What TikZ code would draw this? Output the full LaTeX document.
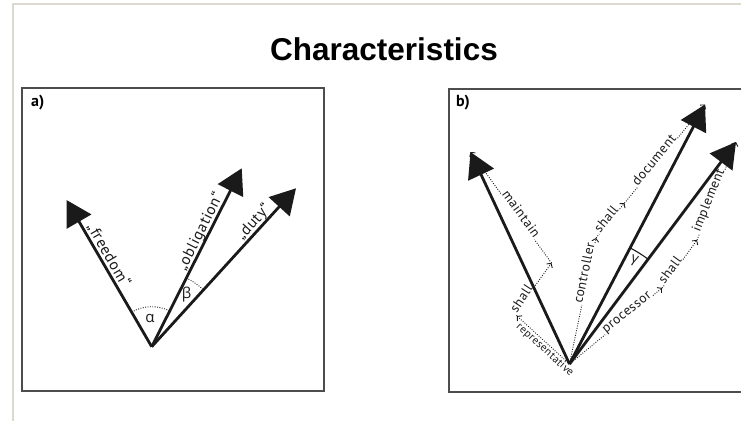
\documentclass[tikz,border=0pt]{standalone}
\usepackage{fontspec}
\usetikzlibrary{arrows.meta,calc}
\setmainfont{PT Sans}
\newfontfamily\lblfont[LetterSpace=4]{PT Sans}
\newfontfamily\titlefont{Liberation Sans}
\newfontfamily\grkfont{Open Sans}
\definecolor{framegray}{HTML}{4D4D4D}
\definecolor{bordergray}{HTML}{DCDAD0}
\definecolor{ink}{HTML}{1A1A1A}
\tikzset{
  bigarrow/.style={line width=2.8pt, draw=ink, -{Triangle[length=25pt,width=28pt]}},
  dotline/.style={draw=ink, line width=0.9pt, dash pattern=on 0.9pt off 1.5pt},
  barb/.style={-{Straight Barb[length=3pt,width=7pt]}},
  alabel/.style={font=\lblfont\fontsize{15.5pt}{18pt}\selectfont, text=ink, inner sep=1pt, anchor=base},
  blabel/.style={font=\lblfont\fontsize{13.5pt}{16pt}\selectfont, text=ink, inner sep=1pt, anchor=base},
  greek/.style={font=\grkfont\fontsize{15pt}{17pt}\selectfont, text=ink, inner sep=0pt},
  panelframe/.style={draw=framegray, line width=1.4pt},
  panellabel/.style={font=\bfseries\fontsize{16pt}{18pt}\selectfont, anchor=north west, inner sep=0pt}
}
\begin{document}
\begin{tikzpicture}[x=1pt,y=-1pt]
\useasboundingbox (0,0) rectangle (741,420);
\clip (0,0) rectangle (741,420);
% outer border
\draw[bordergray, line width=2.5pt] (13,800) -- (13,4) -- (900,4);
% title
\node[font=\titlefont\bfseries\fontsize{31.5pt}{36pt}\selectfont, anchor=base, inner sep=0pt] (title) at (384,60) {Characteristics};
% frames
\draw[panelframe] (22,88) rectangle (324,391);
\draw[panelframe] (449,89) rectangle (800,392);
\node[panellabel] (la) at (31,95) {a)};
\node[panellabel] (lb) at (456,95) {b)};

% ---------- panel a ----------
\coordinate (Oa) at (151.7,346.7);
\coordinate (Fa) at (66.5,200);
\coordinate (Ba) at (241.7,168.3);
\coordinate (Da) at (296,188.3);
\node[alabel, rotate=-59.9] (tfree) at (104.5,257.5) {„freedom“};
\node[alabel, rotate=63.2] (tobl) at (204.4,233.3) {„obligation“};
\node[alabel, rotate=47.7] (tduty) at (257.1,225) {„duty“};
\draw[dotline] ($(Oa)+(-120.1:40)$) arc[start angle=-120.1, end angle=-63.2, radius=40];
\draw[dotline] ($(Oa)+(-63.2:77)$) arc[start angle=-63.2, end angle=-47.7, radius=77];
\node[greek] (alpha) at (150,318) {α};
\node[greek] (beta) at (186.7,295) {β};
\draw[bigarrow] (Oa) -- (Fa);
\draw[bigarrow] (Oa) -- (Ba);
\draw[bigarrow] (Oa) -- (Da);

% ---------- panel b ----------
\coordinate (Ob) at (569.5,364);
\coordinate (Lb) at (470.5,152);
\coordinate (Mb) at (705,104.5);
\coordinate (Rb) at (736,142);
\coordinate (A1) at (517,316);
\coordinate (A2) at (551.5,263);
\coordinate (A3) at (596,238);
\coordinate (A4) at (624.5,203.1);
\coordinate (A5) at (662,288);
\coordinate (A6) at (697,240);

\node[font=\lblfont\fontsize{11pt}{13pt}\selectfont, text=ink, inner sep=0pt, anchor=mid, rotate=-42.4] (trep) at (544.7,350.2) {representative};
\node[blabel, rotate=56.9] (tsh1) at (525,301) {shall};
\node[blabel, rotate=-53.9] (tmain) at (517.7,216.6) {maintain};
\node[blabel, rotate=78.1] (tctrl) at (588.4,274) {controller};
\node[blabel, rotate=50.8] (tsh2) at (609.5,221.5) {shall};
\node[blabel, rotate=50.8] (tdoc) at (657.4,162.9) {document};
\node[blabel, rotate=39.4] (tproc) at (629,315.1) {processor};
\node[blabel, rotate=53.9] (tsh3) at (673.5,272.5) {shall};
\node[blabel, rotate=68.3] (timpl) at (712.2,201.8) {implement};

\draw[dotline, barb] (Ob) -- (A1);
\draw[dotline] (A1) -- (tsh1.base west);
\draw[dotline, barb] (tsh1.base east) -- (A2);
\draw[dotline] (A2) -- (tmain.base east);
\draw[dotline, barb] (tmain.base west) -- (Lb);
\draw[dotline] (Ob) -- (tctrl.base west);
\draw[dotline, barb] (tctrl.base east) -- (A3);
\draw[dotline] (A3) -- (tsh2.base west);
\draw[dotline, barb] (tsh2.base east) -- (A4);
\draw[dotline] (A4) -- (tdoc.base west);
\draw[dotline, barb] (tdoc.base east) -- (Mb);
\draw[dotline] (Ob) -- (tproc.base west);
\draw[dotline, barb] (tproc.base east) -- (A5);
\draw[dotline] (A5) -- (tsh3.base west);
\draw[dotline, barb] (tsh3.base east) -- (A6);
\draw[dotline] (A6) -- (timpl.base west);
\draw[dotline, barb] (timpl.base east) -- (Rb);

\draw[ink, line width=1.1pt] ($(Ob)+(-62.4:131)$) arc[start angle=-62.4, end angle=-53.1, radius=131];
\node[greek, font=\grkfont\fontsize{14pt}{16pt}\selectfont, rotate=-20] (gamma) at (634.3,260.6) {γ};

\draw[bigarrow] (Ob) -- (Lb);
\draw[bigarrow] (Ob) -- (Mb);
\draw[bigarrow] (Ob) -- (Rb);
\end{tikzpicture}
\end{document}
